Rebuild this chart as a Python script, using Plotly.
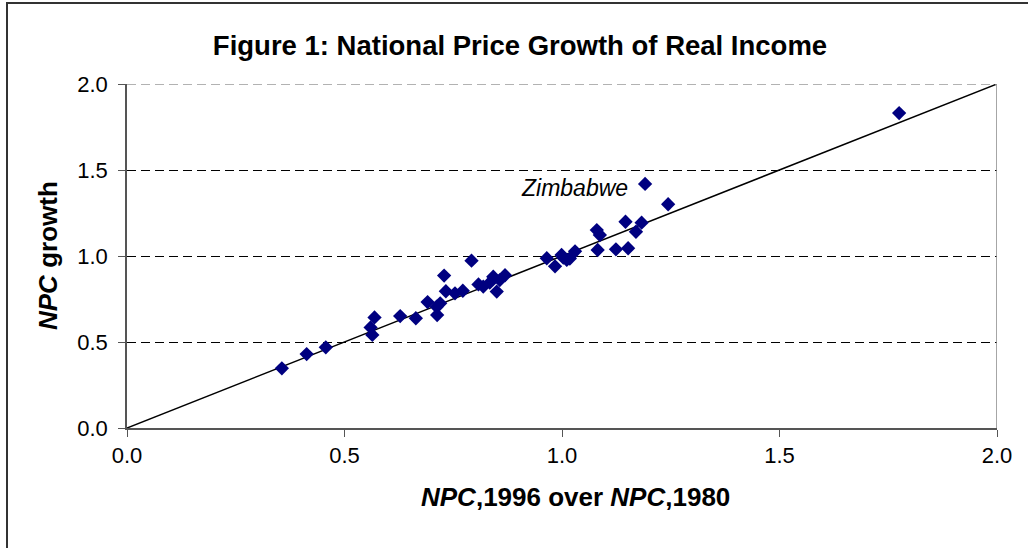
import plotly.graph_objects as go

npc_ratio = [0.356, 0.413, 0.457, 0.560, 0.564, 0.569, 0.628, 0.664, 0.691, 0.712,
             0.713, 0.720, 0.729, 0.733, 0.754, 0.772, 0.792, 0.808, 0.819, 0.834,
             0.842, 0.850, 0.857, 0.869, 0.965, 0.984, 0.999, 1.003, 1.011, 1.018,
             1.030, 1.080, 1.087, 1.082, 1.124, 1.152, 1.146, 1.170, 1.183, 1.191,
             1.244, 1.775]
npc_growth = [0.347, 0.430, 0.469, 0.585, 0.541, 0.643, 0.651, 0.638, 0.732, 0.705,
              0.657, 0.725, 0.886, 0.795, 0.783, 0.798, 0.973, 0.835, 0.822, 0.845,
              0.880, 0.793, 0.860, 0.888, 0.987, 0.940, 1.006, 0.990, 0.977, 0.985,
              1.027, 1.151, 1.122, 1.035, 1.039, 1.045, 1.199, 1.141, 1.194, 1.419,
              1.301, 1.831]
label_name = "Zimbabwe"
label_x, label_y = 1.191, 1.419
diag = [0.0, 2.0]
tick_vals = [0.0, 0.5, 1.0, 1.5, 2.0]
tick_text = ["0.0", "0.5", "1.0", "1.5", "2.0"]

FONT = "Liberation Sans, Arial, sans-serif"
W, H = 1028, 548
# target plot box in page pixels: left 127, right 997, top 84, bottom 428
L, T = 127, 84
R = W - 997
B = H - 428
pw, ph = W - L - R, H - T - B

def px_x(p):
    return (p - L) / pw

def px_y(p):
    return (H - B - p) / ph

fig = go.Figure()
fig.add_trace(go.Scatter(x=diag, y=diag, mode="lines",
                         line=dict(color="black", width=1.5),
                         hoverinfo="skip", showlegend=False))
fig.add_trace(go.Scatter(x=npc_ratio, y=npc_growth, mode="markers",
                         marker=dict(symbol="diamond", size=11, color="#000080",
                                     line=dict(width=0)),
                         showlegend=False))

fig.update_layout(
    width=W, height=H,
    margin=dict(l=L, r=R, t=T, b=B),
    paper_bgcolor="white", plot_bgcolor="white",
    font=dict(family=FONT, color="black"),
    title=dict(text="<b>Figure 1: National Price Growth of Real Income</b>",
               x=520 / W, xanchor="center", y=1 - 45 / H, yanchor="middle",
               font=dict(size=27.5, family=FONT, color="black")),
    xaxis=dict(range=[0, 2], tickvals=tick_vals, ticktext=tick_text,
               showgrid=False, zeroline=False, showline=True, linecolor="#555",
               linewidth=1.5, ticks="outside", ticklen=7, tickcolor="#555",
               tickfont=dict(size=22, family=FONT, color="black")),
    yaxis=dict(range=[0, 2], tickvals=tick_vals, ticktext=tick_text,
               showgrid=True, gridcolor="black", gridwidth=1, griddash="9px,5px",
               zeroline=False, showline=True, linecolor="#555", linewidth=1.5,
               ticks="outside", ticklen=7, tickcolor="#555", ticklabelstandoff=6,
               tickfont=dict(size=22, family=FONT, color="black")),
    shapes=[
        dict(type="line", xref="x", yref="y", x0=2, x1=2, y0=0, y1=2,
             line=dict(color="#888", width=1.5)),
        dict(type="line", xref="x", yref="y", x0=0, x1=2, y0=2, y1=2,
             line=dict(color="#999", width=1.5, dash="9px,5px")),
        dict(type="rect", xref="paper", yref="paper",
             x0=px_x(7), x1=px_x(1060), y0=px_y(3), y1=px_y(580),
             line=dict(color="#333", width=2), fillcolor="rgba(0,0,0,0)",
             layer="below"),
    ],
    annotations=[
        dict(x=label_x, y=label_y, xref="x", yref="y", text="<i>" + label_name + "</i>",
             showarrow=False, xanchor="right", yanchor="middle", xshift=-15, yshift=-4,
             font=dict(size=23, family=FONT, color="black")),
        dict(x=px_x(575), y=px_y(497), xref="paper", yref="paper",
             text="<b><i>NPC</i>,1996 over <i>NPC</i>,1980</b>", showarrow=False,
             xanchor="center", yanchor="middle",
             font=dict(size=26, family=FONT, color="black")),
        dict(x=px_x(48), y=px_y(256), xref="paper", yref="paper",
             text="<b><i>NPC</i> growth</b>", showarrow=False, textangle=-90,
             xanchor="center", yanchor="middle",
             font=dict(size=26, family=FONT, color="black")),
    ],
)

fig.write_html("out.html", config={"displayModeBar": False},
               post_script="document.body.style.margin='0';"
                           "document.body.style.overflow='hidden';")
